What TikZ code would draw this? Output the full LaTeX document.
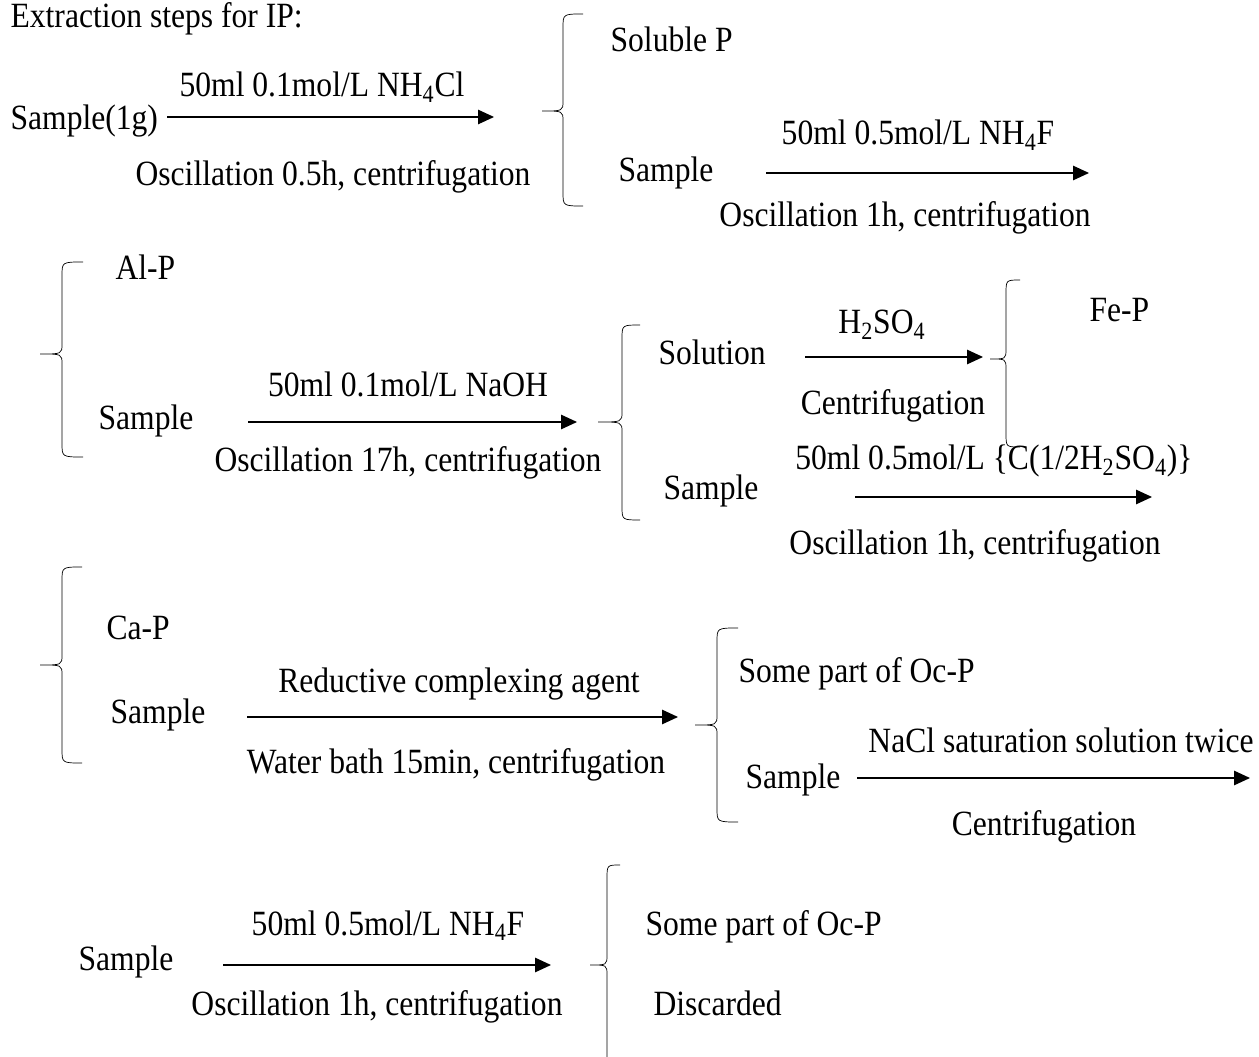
\documentclass[tikz,border=0pt]{standalone}
\usepackage{fontspec}
\setmainfont{Liberation Serif}[FakeStretch=0.89]
\usetikzlibrary{arrows.meta}

% curly brace: tip x, line x, end x, top y, tip y, bottom y
\newcommand{\brc}[6]{%
  \draw[thin] (#3,#4) .. controls (#2,#4) .. (#2,{#4+14}) -- (#2,{#5-10})
    .. controls (#2,#5) .. (#1,#5) .. controls (#2,#5) .. (#2,{#5+10})
    -- (#2,{#6-14}) .. controls (#2,#6) .. (#3,#6);}

\begin{document}
\begin{tikzpicture}[x=0.02cm, y=-0.02cm, >={Triangle[length=0.32cm,width=0.29cm]},
    line width=0.7pt,
    txt/.style={anchor=base west, inner sep=0pt, font=\fontsize{20.2}{24}\selectfont},
    lbl/.style={anchor=base, inner sep=0pt, font=\fontsize{20.2}{24}\selectfont}]
    \useasboundingbox (0,0) rectangle (1259,1057);
    \clip (0,0) rectangle (1259,1057);
    % title
    \node[txt] (title) at (10,28) {Extraction steps for IP:};
    % step 1: NH4Cl
    \node[txt] (smp1) at (10,130) {Sample(1g)};
    \coordinate (a1s) at (167,117);
    \coordinate (a1e) at (494,117);
    \draw[->] (a1s) -- (a1e);
    \node[lbl] (r1) at (322,97) {50ml 0.1mol/L NH\textsubscript{4}Cl};
    \node[lbl] (c1) at (333,186) {Oscillation 0.5h, centrifugation};
    \brc{542}{563}{583}{14}{111}{206}
    \node[txt] (solp) at (610,52) {Soluble P};
    \node[txt] (smp2) at (618,182) {Sample};
    % step 2: NH4F
    \coordinate (a2s) at (766,173);
    \coordinate (a2e) at (1089,173);
    \draw[->] (a2s) -- (a2e);
    \node[lbl] (r2) at (918,145) {50ml 0.5mol/L NH\textsubscript{4}F};
    \node[lbl] (c2) at (905,227) {Oscillation 1h, centrifugation};
    \brc{40}{62}{83}{262}{354}{457}
    \node[txt] (alp) at (115,280) {Al-P};
    \node[txt] (smp3) at (98,430) {Sample};
    % step 3: NaOH
    \coordinate (a3s) at (248,422);
    \coordinate (a3e) at (577,422);
    \draw[->] (a3s) -- (a3e);
    \node[lbl] (r3) at (408,397) {50ml 0.1mol/L NaOH};
    \node[lbl] (c3) at (408,472) {Oscillation 17h, centrifugation};
    \brc{598}{622}{640}{325}{422}{520}
    \node[txt] (sol) at (658,365) {Solution};
    \coordinate (a4s) at (805,357);
    \coordinate (a4e) at (983,357);
    \draw[->] (a4s) -- (a4e);
    \node[lbl] (r4) at (882,334) {H\textsubscript{2}SO\textsubscript{4}};
    \node[lbl] (c4) at (893,415) {Centrifugation};
    \brc{990}{1006}{1020}{280}{359}{447}
    \node[txt] (fep) at (1089,322) {Fe-P};
    \node[txt] (smp4) at (663,500) {Sample};
    % step 4: H2SO4
    \coordinate (a5s) at (855,497);
    \coordinate (a5e) at (1152,497);
    \draw[->] (a5s) -- (a5e);
    \node[lbl] (r5) at (994,470) {50ml 0.5mol/L \{C(1/2H\textsubscript{2}SO\textsubscript{4})\}};
    \node[lbl] (c5) at (975,555) {Oscillation 1h, centrifugation};
    \brc{40}{62}{82}{567}{665}{763}
    \node[txt] (cap) at (106,640) {Ca-P};
    \node[txt] (smp5) at (110,724) {Sample};
    % step 5: reductive complexing agent
    \coordinate (a6s) at (247,717);
    \coordinate (a6e) at (678,717);
    \draw[->] (a6s) -- (a6e);
    \node[lbl] (r6) at (459,693) {Reductive complexing agent};
    \node[lbl] (c6) at (456,773) {Water bath 15min, centrifugation};
    \brc{695}{717}{738}{628}{725}{822}
    \node[txt] (ocp1) at (738,683) {Some part of Oc-P};
    \node[txt] (smp6) at (745,788) {Sample};
    % step 6: NaCl
    \coordinate (a7s) at (857,778);
    \coordinate (a7e) at (1250,778);
    \draw[->] (a7s) -- (a7e);
    \node[lbl] (r7) at (1061,753) {NaCl saturation solution twice};
    \node[lbl] (c7) at (1044,835) {Centrifugation};
    % step 7: NH4F again
    \node[txt] (smp7) at (78,970) {Sample};
    \coordinate (a8s) at (223,965);
    \coordinate (a8e) at (551,965);
    \draw[->] (a8s) -- (a8e);
    \node[lbl] (r8) at (388,935) {50ml 0.5mol/L NH\textsubscript{4}F};
    \node[lbl] (c8) at (377,1015) {Oscillation 1h, centrifugation};
    \brc{590}{607}{620}{865}{965}{1090}
    \node[txt] (ocp2) at (645,935) {Some part of Oc-P};
    \node[txt] (disc) at (653,1015) {Discarded};
\end{tikzpicture}
\end{document}
